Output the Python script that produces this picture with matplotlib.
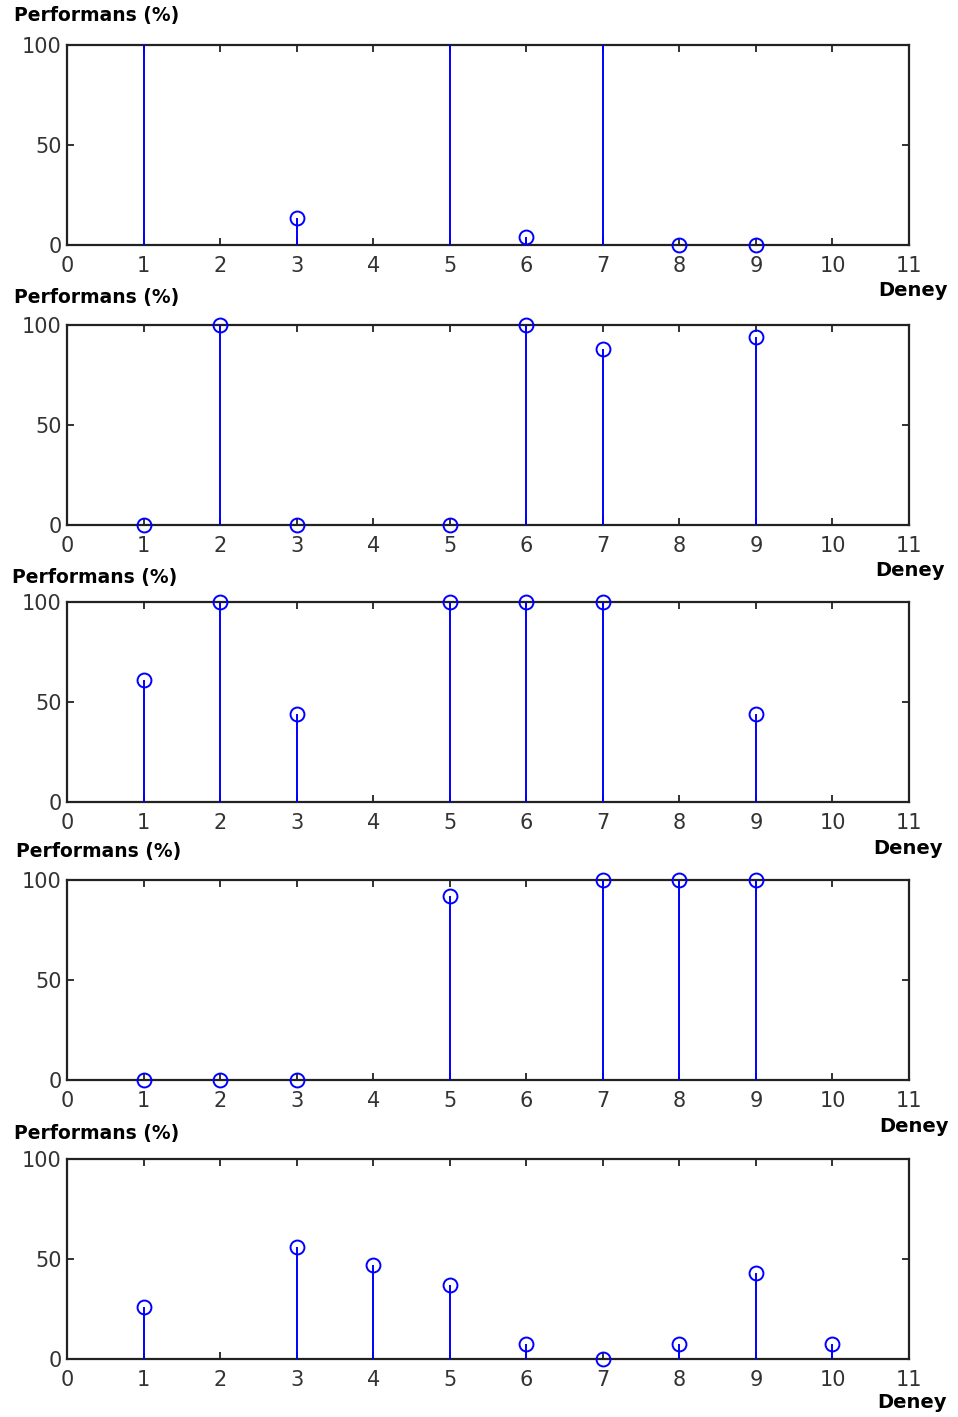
import numpy as np
import matplotlib.pyplot as plt

# values (NaN = no stem drawn)
deney = [1, 2, 3, 4, 5, 6, 7, 8, 9, 10]
perf1 = [120, np.nan, 13.5, np.nan, 120, 4, 120, 0, 0, np.nan]
perf2 = [0, 100, 0, np.nan, 0, 100, 88, np.nan, 94, np.nan]
perf3 = [61, 100, 44, np.nan, 100, 100, 100, np.nan, 44, np.nan]
perf4 = [0, 0, 0, np.nan, 92, np.nan, 100, 100, 100, np.nan]
perf5 = [26, np.nan, 56, 47, 37, 7.5, 0, 7.5, 43, 7.5]
series = [perf1, perf2, perf3, perf4, perf5]

xticks = list(range(0, 12))
yticks = [0, 50, 100]

W, H = 958, 1417
fig = plt.figure(figsize=(W / 100, H / 100), dpi=100)

tops = [45, 325, 602, 880, 1159]
ylab_pos = [(14, 16), (14, 297), (12, 577), (16, 851), (14, 1133)]
xlab_pos = [(948, 290), (945, 570), (943, 848), (949, 1126), (947, 1403)]
left, right, ph = 67, 909, 200

for i, vals in enumerate(series):
    ax = fig.add_axes([left / W, 1 - (tops[i] + ph) / H, (right - left) / W, ph / H])
    x = np.array(deney, dtype=float)
    y = np.array(vals, dtype=float)
    ok = ~np.isnan(y)
    inside = ok & (y <= 100)
    ax.plot(x[inside], y[inside], 'o', ms=10, mfc='none', mec='#0000ff',
            mew=1.4, clip_on=False, zorder=3)
    ax.vlines(x[ok], 0, y[ok], color='#0000ff', lw=1.4, zorder=4)
    ax.set_xlim(0, 11)
    ax.set_ylim(0, 100)
    ax.set_xticks(xticks)
    ax.set_yticks(yticks)
    ax.tick_params(direction='in', top=True, right=True, length=5, width=1.3,
                   labelsize=15, labelcolor='#333333', color='#222222')
    ax.tick_params(axis='x', pad=8)
    ax.tick_params(axis='y', pad=4)
    for s in ax.spines.values():
        s.set_linewidth(1.6)
        s.set_color('#222222')
    fig.text(ylab_pos[i][0] / W, 1 - ylab_pos[i][1] / H, 'Performans (%)',
             fontsize=13.5, fontweight='bold', ha='left', va='center')
    fig.text(xlab_pos[i][0] / W, 1 - xlab_pos[i][1] / H, 'Deney',
             fontsize=14, fontweight='bold', ha='right', va='center')

fig.savefig('out.png', dpi=100)
